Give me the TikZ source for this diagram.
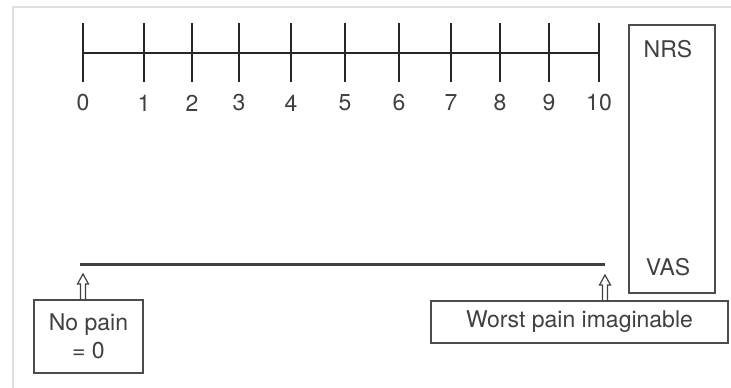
\documentclass[tikz,border=0pt]{standalone}
\usepackage{fontspec}
\setmainfont{TeX Gyre Heros}
\usetikzlibrary{positioning}

\tikzset{
  uparrow/.pic={
    \draw[black!75, line width=1.2pt, line join=miter]
      (-2.5,0) -- (-2.5,-16) -- (-5.5,-16) -- (0,-26) -- (5.5,-16) -- (2.5,-16) -- (2.5,0);
  },
}

\begin{document}
\begin{tikzpicture}[
  x=1pt, y=-1pt,
  font=\fontsize{23}{28}\selectfont,
  lbl/.style={text=black!75, inner sep=0pt},
  tick/.style={black!85, line width=1.4pt},
  sbox/.style={draw=black!70, line width=1.2pt, inner sep=0pt},
]
\useasboundingbox (0,0) rectangle (731,388);
\draw[black!12, line width=1.5pt] (13,388) |- (731,7);

% numeric rating scale
\foreach \x [count=\n from 0] in {83,144,192,239,291,345,399,451,500,549,599} {
  \draw[tick] (\x,23) -- (\x,82);
  \coordinate (t\n) at (\x,53);
  \node[lbl] (n\n) at (\x,103) {\n};
}
\draw[tick] (t0) -- (t10);

% visual analogue scale
\coordinate (v0) at (80,264);
\coordinate (v1) at (605,264);
\draw[black!75, line width=3pt] (v0) -- (v1);

\node[sbox, minimum width=86pt, minimum height=268pt] (scales) at (672,159) {};
\node[lbl] (nrs) at (668,49) {NRS};
\node[lbl] (vas) at (668,267) {VAS};

\node[sbox, minimum width=109pt, minimum height=73pt] (nopain) at (88.5,336.5) {};
\node[lbl, align=center] (nopaintxt) at (nopain) {No pain\\= 0};
\node[sbox, minimum width=297pt, minimum height=42pt] (worst) at (579.5,322) {};
\node[lbl] (worsttxt) at (worst) {Worst pain imaginable};

\pic at (83,300) {uparrow};
\pic at (605,301) {uparrow};
\end{tikzpicture}
\end{document}
